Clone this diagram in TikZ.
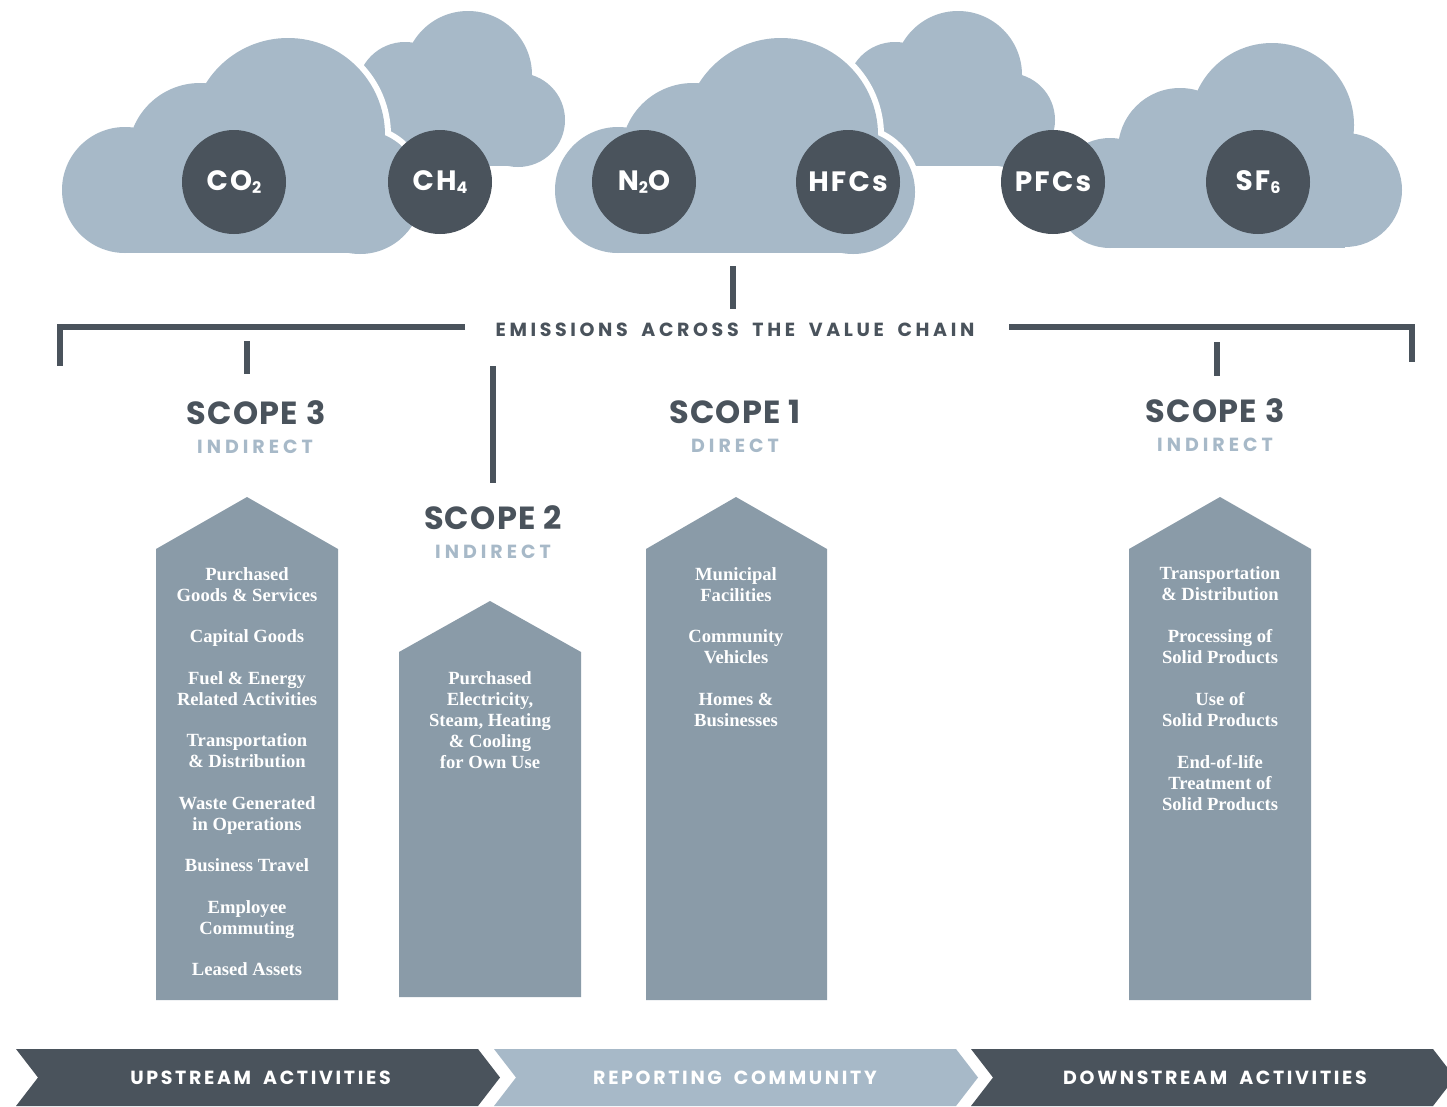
\documentclass[tikz,border=0pt]{standalone}
\usepackage{fontspec}
\setmainfont{Liberation Serif}
\newfontfamily\pop{Poppins}
\newfontfamily\headfont{Poppins}[LetterSpace=19,WordSpace=1.8]
\newfontfamily\chevfont{Poppins}[LetterSpace=14,WordSpace=1.8]
\definecolor{slate}{HTML}{4A535C}
\definecolor{cloudc}{HTML}{A7B9C8}
\definecolor{colc}{HTML}{8A9BA8}
\newcommand\gsub[1]{\raisebox{-3pt}{\fontsize{16}{16}\selectfont #1}}
\newcommand\cloudA[1]{%
 \path[#1] (125,190) circle (63pt);
 \path[#1] (200,155) circle (72pt);
 \path[#1] (288,135) circle (97pt);
 \path[#1] (360,192) circle (62pt);
 \path[#1] (125,190) rectangle (360,253);}
\newcommand\cloudB[1]{%
 \path[#1] (405,90) circle (48pt);
 \path[#1] (468,75) circle (64pt);
 \path[#1] (518,120) circle (47pt);
 \path[#1] (380,110) rectangle (518,166);}
\newcommand\cloudC[1]{%
 \path[#1] (1110,193) circle (55pt);
 \path[#1] (1180,150) circle (62pt);
 \path[#1] (1272,125) circle (82pt);
 \path[#1] (1345,190) circle (57pt);
 \path[#1] (1110,160) rectangle (1345,248);}
\begin{document}
\begin{tikzpicture}[x=1pt,y=-1pt,
  gas/.style={circle,fill=slate,minimum size=104pt,inner sep=0pt,text=white,
    font=\pop\bfseries\fontsize{28}{28}\selectfont\addfontfeature{LetterSpace=8}},
  scopetitle/.style={text=slate,inner sep=0pt,
    font=\pop\bfseries\fontsize{32}{32}\selectfont\addfontfeature{LetterSpace=4}},
  scopesub/.style={text=cloudc,inner sep=0pt,
    font=\pop\bfseries\fontsize{19}{19}\selectfont\addfontfeature{LetterSpace=21}},
  headtext/.style={text=slate,inner sep=0pt,
    font=\headfont\bfseries\fontsize{19}{19}\selectfont},
  coltext/.style={text=white,inner sep=0pt,align=center,anchor=north,
    font=\bfseries\fontsize{18.6}{21}\selectfont},
  bar/.style={draw=slate,line width=5.5pt},
  house/.style={fill=colc},
  chevlabel/.style={text=white,inner sep=0pt,
    font=\chevfont\bfseries\fontsize{19}{19}\selectfont},
]
\useasboundingbox (0,0) rectangle (1447,1106);
\fill[white] (0,0) rectangle (1447,1106);

% back clouds
\cloudB{fill=cloudc}
\begin{scope}[shift={(490,0)}]\cloudB{fill=cloudc}\end{scope}
% front clouds with white halo
\cloudA{draw=white,fill=white,line width=12pt}
\cloudA{fill=cloudc}
\begin{scope}[shift={(493,0)}]
 \cloudA{draw=white,fill=white,line width=12pt}
 \cloudA{fill=cloudc}
\end{scope}
\cloudC{fill=cloudc}

% gases
\node[gas] (co2) at (234,182) {CO\gsub{2}};
\node[gas] (ch4) at (440,182) {CH\gsub{4}};
\node[gas] (n2o) at (644,182) {N\gsub{2}O};
\node[gas] (hfc) at (848,182) {HFCs};
\node[gas] (pfc) at (1053,182) {PFCs};
\node[gas] (sf6) at (1258,182) {SF\gsub{6}};

% header bracket
\node[headtext] (head) at (735,330) {EMISSIONS ACROSS THE VALUE CHAIN};
\coordinate (ctop) at (733,266);
\coordinate (cbot) at (733,309);
\draw[bar] (ctop) -- (cbot);
\coordinate (lb1) at (465,327);
\coordinate (lb2) at (60,327);
\coordinate (lb3) at (60,366);
\draw[bar] (lb1) -- (lb2) -- (lb3);
\coordinate (rb1) at (1009,327);
\coordinate (rb2) at (1412,327);
\coordinate (rb3) at (1412,362);
\draw[bar] (rb1) -- (rb2) -- (rb3);
\coordinate (t3a) at (247,341);
\coordinate (t3b) at (247,374);
\draw[bar] (t3a) -- (t3b);
\coordinate (t2a) at (493,366);
\coordinate (t2b) at (493,483);
\draw[bar] (t2a) -- (t2b);
\coordinate (t4a) at (1217,342);
\coordinate (t4b) at (1217,376);
\draw[bar] (t4a) -- (t4b);

% scope titles
\node[scopetitle] (s3l) at (256,413) {SCOPE 3};
\node[scopesub] (s3ls) at (255,446.5) {INDIRECT};
\node[scopetitle] (s2) at (493,518) {SCOPE 2};
\node[scopesub] (s2s) at (493,551.5) {INDIRECT};
\node[scopetitle] (s1) at (735,412) {SCOPE 1};
\node[scopesub] (s1s) at (735,445.5) {DIRECT};
\node[scopetitle] (s3r) at (1215,411) {SCOPE 3};
\node[scopesub] (s3rs) at (1215,444.5) {INDIRECT};

% columns
\path[house] (156,549) -- (247,497) -- (338,549) -- (338,1000) -- (156,1000) -- cycle;
\path[house] (399,652) -- (490,601) -- (581,652) -- (581,997) -- (399,997) -- cycle;
\path[house] (646,549) -- (736,497) -- (827,549) -- (827,1000) -- (646,1000) -- cycle;
\path[house] (1129,549) -- (1220,497) -- (1311,549) -- (1311,1000) -- (1129,1000) -- cycle;

\node[coltext] (colA) at (247,567) {Purchased\\Goods \& Services\\[20.5pt]Capital Goods\\[20.5pt]Fuel \& Energy\\Related Activities\\[20.5pt]Transportation\\\& Distribution\\[20.5pt]Waste Generated\\in Operations\\[20.5pt]Business Travel\\[20.5pt]Employee\\Commuting\\[20.5pt]Leased Assets};
\node[coltext] (colB) at (490,671) {Purchased\\Electricity,\\Steam, Heating\\\& Cooling\\for Own Use};
\node[coltext] (colC) at (736,567) {Municipal\\Facilities\\[20.5pt]Community\\Vehicles\\[20.5pt]Homes \&\\Businesses};
\node[coltext] (colD) at (1220,566) {Transportation\\\& Distribution\\[21pt]Processing of\\Solid Products\\[21pt]Use of\\Solid Products\\[21pt]End-of-life\\Treatment of\\Solid Products};

% chevrons
\fill[slate] (16,1049) -- (478,1049) -- (500,1077.5) -- (478,1106) -- (16,1106) -- (38,1077.5) -- cycle;
\fill[cloudc] (494,1049) -- (956,1049) -- (978,1077.5) -- (956,1106) -- (494,1106) -- (516,1077.5) -- cycle;
\fill[slate] (971,1049) -- (1433,1049) -- (1455,1077.5) -- (1433,1106) -- (971,1106) -- (993,1077.5) -- cycle;
\node[chevlabel] (up) at (260.5,1078) {UPSTREAM ACTIVITIES};
\node[chevlabel] (rep) at (735,1078) {REPORTING COMMUNITY};
\node[chevlabel] (down) at (1215,1078) {DOWNSTREAM ACTIVITIES};
\end{tikzpicture}
\end{document}
